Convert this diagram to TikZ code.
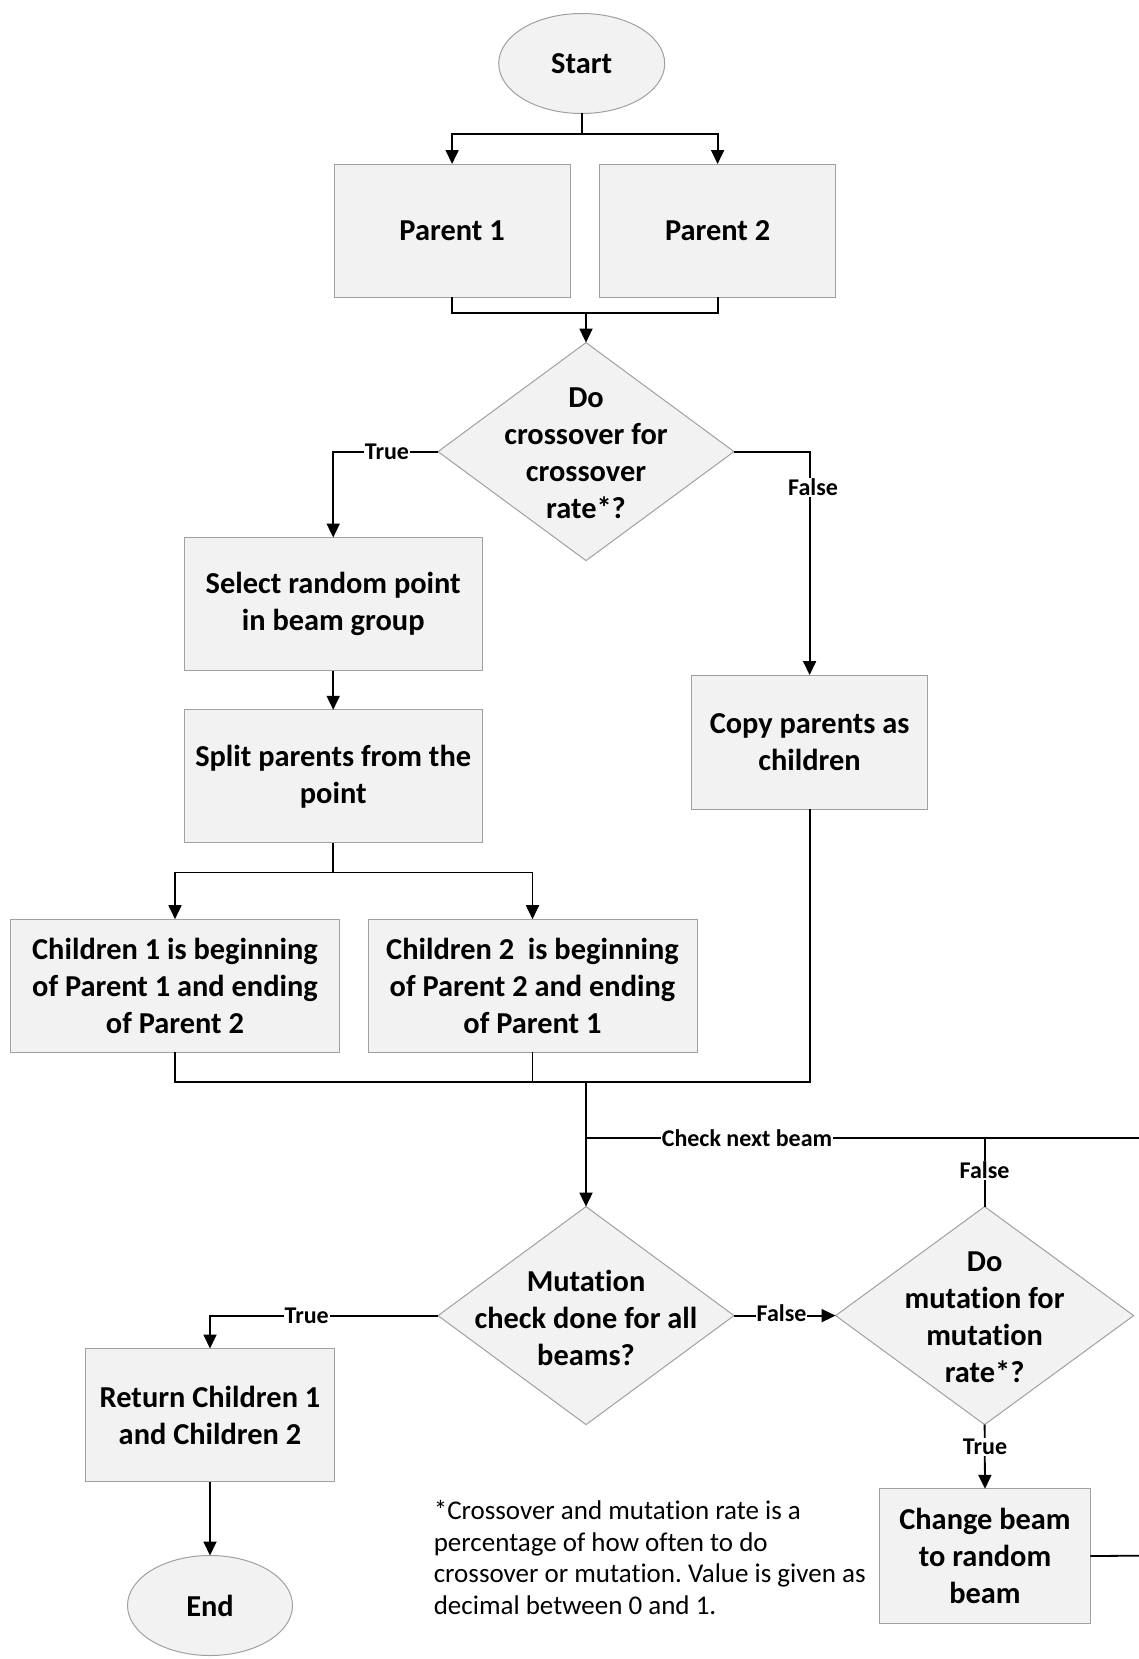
\documentclass[tikz,border=0pt]{standalone}
\usepackage{fontspec}
\setmainfont{Carlito}[Ligatures=CommonOff]
\usetikzlibrary{shapes.geometric,arrows.meta}
\frenchspacing

\definecolor{boxfill}{HTML}{F2F2F2}
\definecolor{boxline}{HTML}{A0A0A0}

\tikzset{
  base/.style={fill=boxfill, draw=boxline, line width=1pt, inner sep=0pt, outer sep=0pt,
    font=\bfseries\fontsize{30.4}{37}\selectfont, align=center},
  proc/.style={base, rectangle, minimum width=#1, minimum height=133pt},
  term/.style={base, ellipse, minimum width=166pt, minimum height=100pt},
  dec/.style={base, diamond, minimum width=#1, minimum height=218pt},
  dectext/.style={inner sep=0pt, font=\bfseries\fontsize{30.4}{37}\selectfont, align=center},
  link/.style={line width=1.8pt},
  flow/.style={link, -{Triangle[length=14pt,width=13pt]}},
  tag/.style={fill=white, inner sep=1pt, font=\bfseries\fontsize{24}{28}\selectfont},
  note/.style={inner sep=0pt, align=left, font=\fontsize{27}{31.7}\selectfont},
}

\begin{document}
\begin{tikzpicture}[x=1pt,y=-1pt]
\useasboundingbox (0,0) rectangle (1139,1659);

% nodes
\node[term] (start) at (581.7,63.5) {Start};
\node[proc=236pt] (p1) at (452.1,230.5) {Parent 1};
\node[proc=236pt] (p2) at (717.6,230.5) {Parent 2};
\node[dec=296pt] (d1) at (586,451.6) {};
\node[dectext] (d1t) at ([yshift=-2pt]d1.center) {Do\\crossover for\\crossover\\rate*?};
\node[proc=298pt] (sel) at (333.2,604) {Select random point\\in beam group};
\node[proc=298pt] (split) at (333.2,776.3) {Split parents from the\\point};
\node[proc=236pt, minimum height=134pt] (copy) at (809.6,742) {Copy parents as\\children};
\node[proc=329pt] (c1) at (175,985.7) {Children 1 is beginning\\of Parent 1 and ending\\of Parent 2};
\node[proc=329pt] (c2) at (532.5,985.7) {Children 2\ \ is beginning\\of Parent 2 and ending\\of Parent 1};
\node[dec=296pt] (d2) at (586,1315.6) {};
\node[dectext] (d2t) at ([yshift=-2pt]d2.center) {Mutation\\check done for all\\beams?};
\node[dec=298pt] (d3) at (984.6,1315.6) {};
\node[dectext] (d3t) at ([yshift=-2pt]d3.center) {Do\\mutation for\\mutation\\rate*?};
\node[proc=248.5pt] (ret) at (210,1415) {Return Children 1\\and Children 2};
\node[term, minimum width=165pt] (end) at (210,1605.5) {End};
\node[proc=210.5pt, minimum height=134.4pt] (chg) at (985,1556) {Change beam\\to random\\beam};
\node[note, anchor=west] (fn) at (433.6,1557.5) {*Crossover and mutation rate is a\\percentage of how often to do\\crossover or mutation. Value is given as\\decimal between 0 and 1.};

% junction points
\coordinate (sb) at (581.7,134.3);
\coordinate (pj) at (586,313);
\coordinate (sj) at (333.2,872.5);
\coordinate (cj) at (586,1082);
\coordinate (cn) at (586,1138);
\coordinate (loopR) at (1139,1138);
\coordinate (chgR) at (1139,1555.7);

% connectors
\draw[link] (start.south) -- (sb);
\draw[flow] (sb) -| (p1.north);
\draw[flow] (sb) -| (p2.north);
\draw[link] (p1.south) |- (pj) -| (p2.south);
\draw[flow] (pj) -- (d1.north);
\draw[flow] (d1.west) -| (sel.north);
\draw[flow] (d1.east) -| (copy.north);
\draw[flow] (sel.south) -- (split.north);
\draw[link] (split.south) -- (sj);
\draw[flow] (sj) -| (c1.north);
\draw[flow] (sj) -| (c2.north);
\draw[link] (c1.south) |- (cj) -| (copy.south);
\draw[link] (c2.south) -- (c2.south |- cj);
\draw[flow] (cj) -- (d2.north);
\draw[link] (cn) -- (loopR);
\draw[link] (d3.north) -- (d3.north |- cn);
\draw[flow] (d2.east) -- (d3.west);
\draw[flow] (d2.west) -| (ret.north);
\draw[flow] (d3.south) -- (chg.north);
\draw[link] (chg.east) -- (chgR);
\draw[flow] (ret.south) -- (end.north);

% connector labels
\node[tag] (l1) at (387,451.6) {True};
\node[tag] (l2) at (813,487.6) {False};
\node[tag] (l3) at (747,1138) {Check next beam};
\node[tag] (l4) at (984.6,1170.6) {False};
\node[tag] (l5) at (781.6,1313) {False};
\node[tag] (l6) at (306.7,1315.6) {True};
\node[tag] (l7) at (985,1446.8) {True};
\end{tikzpicture}
\end{document}
